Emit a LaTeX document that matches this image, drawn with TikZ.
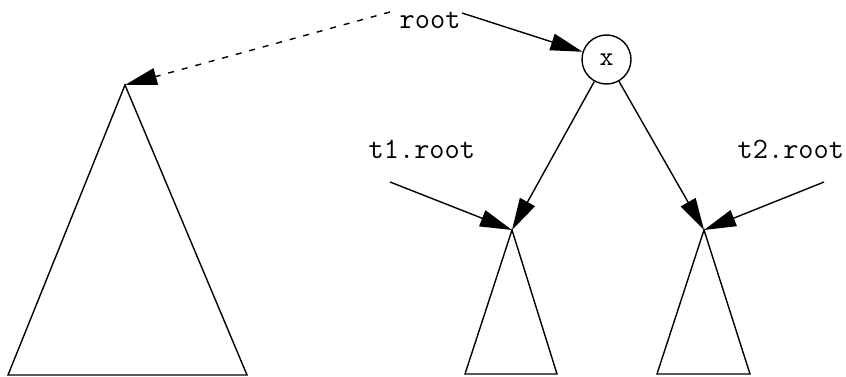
\documentclass[tikz,border=0pt]{standalone}
\usetikzlibrary{arrows.meta}
\begin{document}
\begin{tikzpicture}[x=1pt,y=-1pt,
  line width=1.4pt,
  arr/.style={-{Triangle[length=32pt,width=17pt]}},
  lbl/.style={font=\ttfamily\fontsize{29.5}{34}\selectfont, inner sep=0pt, anchor=base west},
  tri/.style={line width=1.4pt, line join=miter}]
\useasboundingbox (0,0) rectangle (846,377);
% coordinates
\coordinate (A) at (125,85);
\coordinate (B) at (512,230);
\coordinate (C) at (704,230);
\coordinate (rs) at (390,12);
\coordinate (rr) at (462,13);
\coordinate (t1s) at (390,182);
\coordinate (t2s) at (824,182);
% triangles
\draw[tri] (A) -- (8,375) -- (247,375) -- cycle;
\draw[tri] (B) -- (465,374) -- (557,374) -- cycle;
\draw[tri] (C) -- (657,374) -- (750,374) -- cycle;
% circle
\node[draw, circle, minimum size=49pt, inner sep=0pt, font=\ttfamily\fontsize{27}{30}\selectfont] (x) at (606.5,59.5) {x};
% labels
\node[lbl] (root) at (399,29) {root};
\node[lbl] (t1) at (368,158) {t1.root};
\node[lbl] (t2) at (737,158) {t2.root};
% connectors
\draw[arr, dash pattern=on 6pt off 8pt] (rs) -- (A);
\draw[arr] (rr) -- (x);
\draw[arr] (x) -- (B);
\draw[arr] (x) -- (C);
\draw[arr] (t1s) -- (B);
\draw[arr] (t2s) -- (C);
\end{tikzpicture}
\end{document}
